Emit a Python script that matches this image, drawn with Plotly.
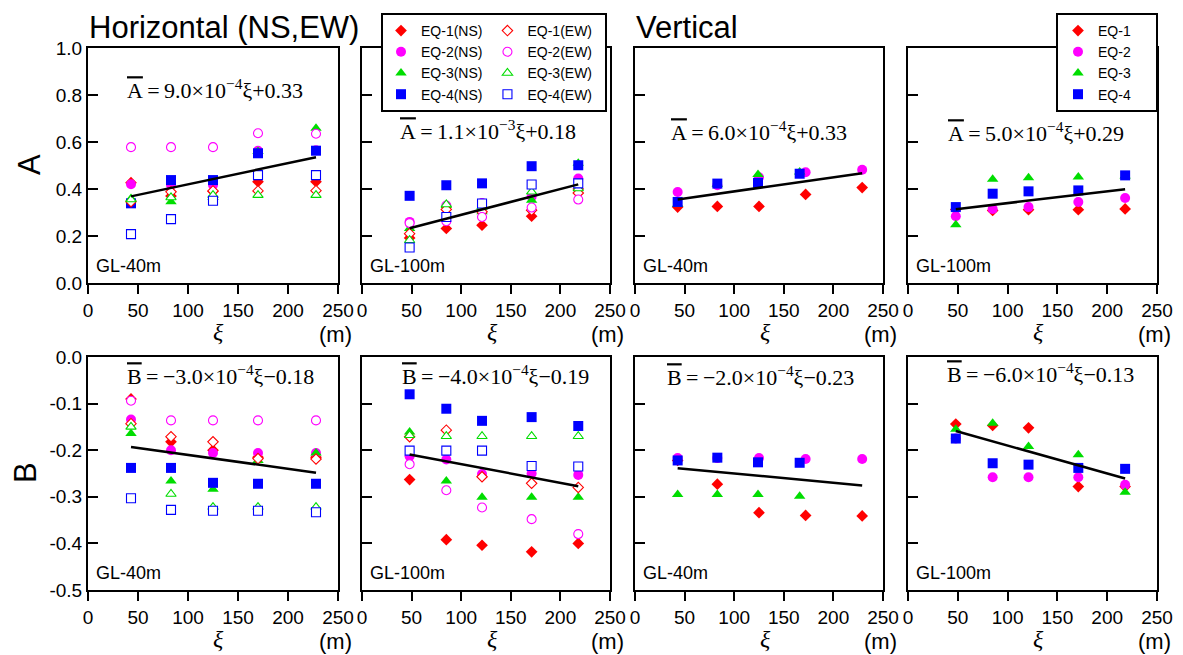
import plotly.graph_objects as go

# ---------------- data ----------------
xi_h40 = [43, 83, 125, 170, 228]
xi_h100 = [48, 85, 121, 171, 218]
xi_v40_12 = [43, 83, 125, 172, 229]
xi_v40_34 = [43, 83, 124, 166]
xi_v100 = [48, 85, 121, 171, 218]

# A, horizontal, GL-40m
A_h40_NS = {
    "EQ-1": [0.427, 0.370, 0.390, 0.431, 0.431],
    "EQ-2": [0.420, 0.417, 0.417, 0.563, 0.565],
    "EQ-3": [0.360, 0.346, 0.364, 0.560, 0.659],
    "EQ-4": [0.339, 0.438, 0.438, 0.552, 0.563],
}
A_h40_EW = {
    "EQ-1": [0.346, 0.388, 0.392, 0.392, 0.393],
    "EQ-2": [0.578, 0.578, 0.578, 0.637, 0.635],
    "EQ-3": [0.355, 0.364, 0.374, 0.374, 0.374],
    "EQ-4": [0.208, 0.272, 0.350, 0.459, 0.459],
}
# A, horizontal, GL-100m
A_h100_NS = {
    "EQ-1": [0.192, 0.232, 0.246, 0.284, 0.400],
    "EQ-2": [0.260, 0.330, 0.340, 0.367, 0.445],
    "EQ-3": [0.232, 0.330, 0.303, 0.352, 0.510],
    "EQ-4": [0.371, 0.416, 0.424, 0.497, 0.501],
}
A_h100_EW = {
    "EQ-1": [0.210, 0.313, 0.303, 0.310, 0.383],
    "EQ-2": [0.255, 0.263, 0.281, 0.321, 0.355],
    "EQ-3": [0.182, 0.334, 0.324, 0.388, 0.402],
    "EQ-4": [0.151, 0.281, 0.338, 0.419, 0.424],
}
# A, vertical
A_v40 = {
    "EQ-1": [0.323, 0.326, 0.326, 0.377, 0.406],
    "EQ-2": [0.387, 0.416, 0.450, 0.471, 0.482],
    "EQ-3": [0.335, 0.420, 0.462, 0.472],
    "EQ-4": [0.345, 0.423, 0.426, 0.465],
}
A_v100 = {
    "EQ-1": [0.313, 0.309, 0.312, 0.312, 0.315],
    "EQ-2": [0.284, 0.315, 0.323, 0.345, 0.362],
    "EQ-3": [0.248, 0.441, 0.448, 0.451, 0.455],
    "EQ-4": [0.323, 0.380, 0.390, 0.394, 0.458],
}
# B, horizontal, GL-40m
B_h40_NS = {
    "EQ-1": [-0.090, -0.182, -0.200, -0.215, -0.215],
    "EQ-2": [-0.134, -0.200, -0.206, -0.206, -0.206],
    "EQ-3": [-0.164, -0.266, -0.284, -0.222, -0.206],
    "EQ-4": [-0.238, -0.238, -0.270, -0.272, -0.272],
}
B_h40_EW = {
    "EQ-1": [-0.143, -0.171, -0.182, -0.218, -0.219],
    "EQ-2": [-0.094, -0.136, -0.136, -0.136, -0.136],
    "EQ-3": [-0.150, -0.294, -0.322, -0.322, -0.322],
    "EQ-4": [-0.303, -0.328, -0.330, -0.330, -0.333],
}
# B, horizontal, GL-100m
B_h100_NS = {
    "EQ-1": [-0.263, -0.392, -0.404, -0.418, -0.400],
    "EQ-2": [-0.213, -0.220, -0.251, -0.250, -0.253],
    "EQ-3": [-0.161, -0.266, -0.301, -0.301, -0.301],
    "EQ-4": [-0.080, -0.111, -0.137, -0.129, -0.148],
}
B_h100_EW = {
    "EQ-1": [-0.171, -0.157, -0.257, -0.271, -0.280],
    "EQ-2": [-0.230, -0.286, -0.323, -0.348, -0.380],
    "EQ-3": [-0.168, -0.170, -0.170, -0.170, -0.170],
    "EQ-4": [-0.201, -0.201, -0.201, -0.234, -0.235],
}
# B, vertical
B_v40 = {
    "EQ-1": [-0.222, -0.273, -0.334, -0.340, -0.341],
    "EQ-2": [-0.217, -0.217, -0.217, -0.219, -0.219],
    "EQ-3": [-0.295, -0.295, -0.295, -0.299],
    "EQ-4": [-0.222, -0.216, -0.226, -0.227],
}
B_v100 = {
    "EQ-1": [-0.144, -0.147, -0.152, -0.278, -0.278],
    "EQ-2": [-0.175, -0.258, -0.258, -0.258, -0.274],
    "EQ-3": [-0.155, -0.142, -0.192, -0.210, -0.290],
    "EQ-4": [-0.175, -0.228, -0.231, -0.238, -0.240],
}

# fitted lines: slope, intercept
fit_slopes = [9.0e-4, 1.1e-3, 6.0e-4, 5.0e-4, -3.0e-4, -4.0e-4, -2.0e-4, -6.0e-4]
fit_intercepts = [0.33, 0.18, 0.33, 0.29, -0.18, -0.19, -0.23, -0.13]

eq_labels = [
    "9.0×10<sup>−4</sup>ξ+0.33",
    "1.1×10<sup>−3</sup>ξ+0.18",
    "6.0×10<sup>−4</sup>ξ+0.33",
    "5.0×10<sup>−4</sup>ξ+0.29",
    "−3.0×10<sup>−4</sup>ξ−0.18",
    "−4.0×10<sup>−4</sup>ξ−0.19",
    "−2.0×10<sup>−4</sup>ξ−0.23",
    "−6.0×10<sup>−4</sup>ξ−0.13",
]
gl_labels = ["GL-40m", "GL-100m", "GL-40m", "GL-100m"] * 2
x_ticks = [0, 50, 100, 150, 200, 250]
yA_ticks = [0.0, 0.2, 0.4, 0.6, 0.8, 1.0]
yA_labels = ["0.0", "0.2", "0.4", "0.6", "0.8", "1.0"]
yB_ticks = [-0.5, -0.4, -0.3, -0.2, -0.1, 0.0]
yB_labels = ["-0.5", "-0.4", "-0.3", "-0.2", "-0.1", "0.0"]

# ---------------- styling ----------------
OFF = 8                      # page body margin offset (px)
W, H = 1183 - OFF, 655 - OFF
COLORS = {"EQ-1": "#FF0000", "EQ-2": "#FF00FF", "EQ-3": "#00DD00", "EQ-4": "#0000FF"}
SYMBOLS = {"EQ-1": "diamond", "EQ-2": "circle", "EQ-3": "triangle-up", "EQ-4": "square"}
SIZES = {"EQ-1": 9, "EQ-2": 10, "EQ-3": 10, "EQ-4": 10}
SANS = "Arial, Liberation Sans, sans-serif"
SERIF = "Times New Roman, Liberation Serif, serif"
PAD = "\u00a0" * 5
PAD_EW = "\u00a0" * 2

col_px = [(88, 338), (362, 610), (635, 883), (908, 1157)]
row_px = [(48, 283), (357, 590)]


def px_x(v):
    return (v - OFF) / W


def px_y(v):
    return 1 - (v - OFF) / H


fig = go.Figure()

panels = [
    (0, "h", xi_h40, A_h40_NS, A_h40_EW),
    (1, "h", xi_h100, A_h100_NS, A_h100_EW),
    (2, "v", None, A_v40, None),
    (3, "v", xi_v100, A_v100, None),
    (4, "h", xi_h40, B_h40_NS, B_h40_EW),
    (5, "h", xi_h100, B_h100_NS, B_h100_EW),
    (6, "v", None, B_v40, None),
    (7, "v", xi_v100, B_v100, None),
]

eqs = ["EQ-1", "EQ-2", "EQ-3", "EQ-4"]

for idx, kind, xi, d1, d2 in panels:
    ax = "" if idx == 0 else str(idx + 1)
    xa, ya = "x" + ax, "y" + ax
    all_x = []
    if kind == "h":
        for k, eq in enumerate(eqs):
            fig.add_trace(go.Scatter(
                x=xi, y=d1[eq], mode="markers", xaxis=xa, yaxis=ya,
                name=eq + "(NS)", legend="legend", legendgroup="NS",
                showlegend=(idx == 0), legendrank=k,
                marker=dict(symbol=SYMBOLS[eq], size=SIZES[eq], color=COLORS[eq],
                            line=dict(width=0)),
            ))
        for k, eq in enumerate(eqs):
            fig.add_trace(go.Scatter(
                x=xi, y=d2[eq], mode="markers", xaxis=xa, yaxis=ya,
                name=eq + "(EW)" + PAD_EW, legend="legend", legendgroup="EW",
                showlegend=(idx == 0), legendrank=10 + k,
                marker=dict(symbol=SYMBOLS[eq], size=SIZES[eq] - 1, color="white",
                            line=dict(width=1.1, color=COLORS[eq])),
            ))
        all_x = list(xi)
    else:
        for eq in eqs:
            if xi is None:
                xs = xi_v40_12 if eq in ("EQ-1", "EQ-2") else xi_v40_34
            else:
                xs = xi
            all_x += list(xs)
            fig.add_trace(go.Scatter(
                x=xs, y=d1[eq], mode="markers", xaxis=xa, yaxis=ya,
                name=eq + PAD, legend="legend2", showlegend=(idx == 2),
                marker=dict(symbol=SYMBOLS[eq], size=SIZES[eq], color=COLORS[eq],
                            line=dict(width=0)),
            ))
    x0, x1 = min(all_x), max(all_x)
    s, b = fit_slopes[idx], fit_intercepts[idx]
    fig.add_trace(go.Scatter(
        x=[x0, x1], y=[s * x0 + b, s * x1 + b], mode="lines", xaxis=xa, yaxis=ya,
        line=dict(color="black", width=2.5), showlegend=False, hoverinfo="skip",
    ))

layout = dict(
    template="none",
    width=W, height=H, margin=dict(l=0, r=0, t=0, b=0, pad=0, autoexpand=False),
    paper_bgcolor="white", plot_bgcolor="white",
    font=dict(family=SANS, color="black", size=19),
)

for idx in range(8):
    r, c = divmod(idx, 4)
    ax = "" if idx == 0 else str(idx + 1)
    (xl, xr), (yt, yb) = col_px[c], row_px[r]
    xaxis = dict(
        domain=[px_x(xl), px_x(xr)], range=[0, 250], anchor="y" + ax,
        tickvals=x_ticks, ticks="outside", ticklen=9, tickwidth=1.5, tickcolor="black",
        showline=True, linewidth=2, linecolor="black", mirror=True,
        showgrid=False, zeroline=False, tickfont=dict(size=19),
        ticklabelstandoff=0, automargin=False,
    )
    if r == 0:
        yv, yl, yr = yA_ticks, yA_labels, [0, 1]
    else:
        yv, yl, yr = yB_ticks, yB_labels, [-0.5, 0]
    yaxis = dict(
        domain=[px_y(yb), px_y(yt)], range=yr, anchor="x" + ax,
        tickvals=yv, ticktext=yl, ticks="inside", ticklen=10, tickwidth=1.5, tickcolor="black",
        showline=True, linewidth=2, linecolor="black", mirror=True,
        showgrid=False, zeroline=False, showticklabels=(c == 0),
        tickfont=dict(size=19), automargin=False,
    )
    layout["xaxis" + ax] = xaxis
    layout["yaxis" + ax] = yaxis

annotations = []
annotations.append(dict(text="Horizontal (NS,EW)", x=px_x(87), y=px_y(27), xref="paper", yref="paper",
                        xanchor="left", yanchor="middle", showarrow=False, font=dict(size=31)))
annotations.append(dict(text="Vertical", x=px_x(634), y=px_y(27), xref="paper", yref="paper",
                        xanchor="left", yanchor="middle", showarrow=False, font=dict(size=31)))
annotations.append(dict(text="A", x=px_x(30), y=px_y(165), xref="paper", yref="paper", textangle=-90,
                        xanchor="center", yanchor="middle", showarrow=False, font=dict(size=31)))
annotations.append(dict(text="B", x=px_x(25), y=px_y(473), xref="paper", yref="paper", textangle=-90,
                        xanchor="center", yanchor="middle", showarrow=False, font=dict(size=31)))

eq_pos = [(215, 89), (488, 130), (759, 131), (1036, 132), (220, 375), (495, 375), (760, 376), (1040, 373)]
for idx in range(8):
    r, c = divmod(idx, 4)
    (xl, xr), (yt, yb) = col_px[c], row_px[r]
    letter = "A" if r == 0 else "B"
    ex, ey = eq_pos[idx]
    annotations.append(dict(
        text='<span style="text-decoration:overline">' + letter + '</span>\u2009=\u2009' + eq_labels[idx],
        x=px_x(ex), y=px_y(ey), xref="paper", yref="paper", xanchor="center", yanchor="middle",
        showarrow=False, font=dict(family=SERIF, size=22)))
    annotations.append(dict(text=gl_labels[idx], x=px_x(xl + 6), y=px_y(yb - 17), xref="paper", yref="paper",
                            xanchor="left", yanchor="middle", showarrow=False, font=dict(size=18)))
    annotations.append(dict(text="<i>ξ</i>", x=px_x(xl + 130), y=px_y(yb + 49), xref="paper", yref="paper",
                            xanchor="center", yanchor="middle", showarrow=False,
                            font=dict(family=SERIF, size=24)))
    annotations.append(dict(text="(m)", x=px_x(xr - 3), y=px_y(yb + 51), xref="paper", yref="paper",
                            xanchor="center", yanchor="middle", showarrow=False, font=dict(size=22)))

layout["annotations"] = annotations
layout["legend"] = dict(
    x=px_x(381), y=px_y(13), xanchor="left", yanchor="top", orientation="h",
    traceorder="grouped", bordercolor="black", borderwidth=2, bgcolor="white",
    font=dict(size=14), tracegroupgap=0,
)
layout["legend2"] = dict(
    x=px_x(1056), y=px_y(13), xanchor="left", yanchor="top", orientation="v",
    bordercolor="black", borderwidth=2, bgcolor="white", font=dict(size=14),
)
fig.update_layout(**layout)
fig.write_html("out.html")
